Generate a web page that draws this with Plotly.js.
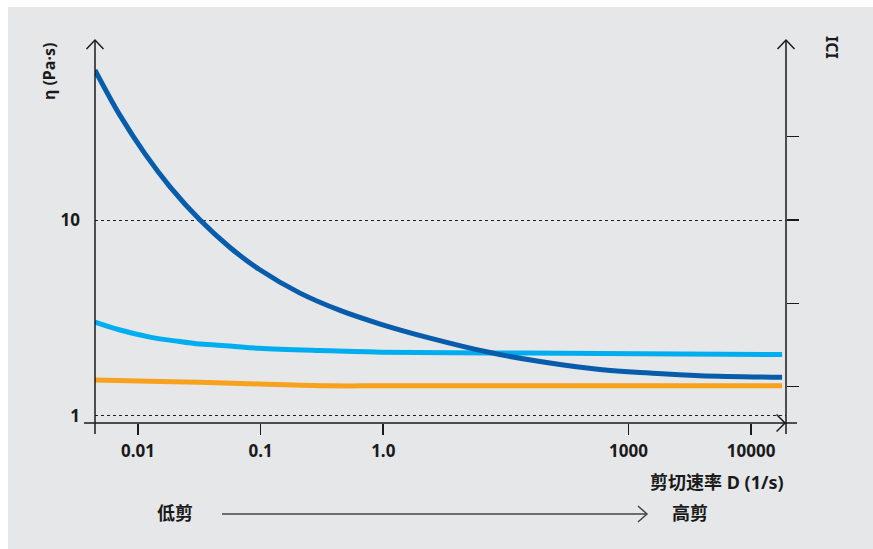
<!DOCTYPE html>
<html>
<head>
<meta charset="utf-8">
<script src="https://cdn.plot.ly/plotly-3.0.1.min.js"></script>
<style>
  html, body { margin: 0; padding: 0; background: #ffffff; }
  #chart { width: 873px; height: 549px; }
</style>
</head>
<body>
<div id="chart"></div>
<script>
// Shear-rate axis is schematic: one unit per labelled step
// (0.01, 0.1, 1.0, then 1000 two steps later, then 10000).
const tickPos = [0, 1, 2, 4, 5];
const tickLabels = ['0.01', '0.1', '1.0', '1000', '10000'];

// Viscosity curves, η in Pa·s, x in shear-axis units
const darkX = [-0.351, -0.147, 0.057, 0.261, 0.506, 0.750, 0.987, 1.321, 1.648, 1.982, 2.382, 2.871, 3.279, 3.768, 4.176, 4.584, 5.253];
const darkEta = [58.5, 34.3, 21.8, 14.8, 10.0, 7.24, 5.60, 4.23, 3.45, 2.93, 2.49, 2.10, 1.89, 1.72, 1.65, 1.60, 1.57];

const lightX = [-0.351, -0.147, 0.098, 0.302, 0.506, 0.750, 0.987, 1.485, 1.982, 2.871, 3.768, 5.253];
const lightEta = [3.01, 2.74, 2.52, 2.41, 2.32, 2.27, 2.21, 2.15, 2.11, 2.09, 2.08, 2.05];

const orangeX = [-0.351, 0.098, 0.506, 0.987, 1.566, 1.982, 3.0, 5.253];
const orangeEta = [1.52, 1.50, 1.48, 1.45, 1.42, 1.42, 1.42, 1.42];

// Right-hand |C| axis tick marks (unlabelled)
const rightTicks = [1, 2, 3, 4];

const FONT = 'Noto Sans, "Noto Sans CJK SC", sans-serif';
const INK = '#1a1a1a';
const BG = '#e6e7e9';

function curve(x, y, color) {
  return {
    type: 'scatter', mode: 'lines', x: x, y: y,
    line: { color: color, width: 5, shape: 'spline', smoothing: 1 },
    hoverinfo: 'skip', showlegend: false
  };
}

const data = [
  curve(lightX, lightEta, '#00aeef'),
  curve(orangeX, orangeEta, '#f8a11c'),
  curve(darkX, darkEta, '#075dab'),
  // carries the right-hand axis
  { type: 'scatter', mode: 'lines', x: [null], y: [null], yaxis: 'y2', hoverinfo: 'skip', showlegend: false }
];

// open chevron arrow heads, sized in pixels
function chevron(x, y, path, color) {
  return {
    type: 'path', xref: 'paper', yref: 'paper',
    xsizemode: 'pixel', ysizemode: 'pixel', xanchor: x, yanchor: y,
    path: path, line: { color: color || INK, width: 1.5 }
  };
}
function seg(x0, y0, x1, y1, color, w) {
  return { type: 'line', xref: 'paper', yref: 'paper', x0: x0, y0: y0, x1: x1, y1: y1,
           line: { color: color || INK, width: w || 1.5 } };
}

const shapes = [
  { type: 'rect', xref: 'paper', yref: 'paper', x0: -0.1375, x1: -0.1259, y0: -0.34, y1: 1.11,
    fillcolor: '#ffffff', line: { width: 0 }, layer: 'below' },
  { type: 'rect', xref: 'paper', yref: 'paper', x0: -0.14, x1: 1.14, y0: 1.0862, y1: 1.11,
    fillcolor: '#ffffff', line: { width: 0 }, layer: 'below' },
  seg(0, -0.0287, 0, 1),
  seg(1, -0.0287, 1, 1),
  seg(-0.0159, 0, 1.0159, 0),
  chevron(0, 1, 'M-8.5,-9 L0,0 L8.5,-9'),
  chevron(1, 1, 'M-8.5,-9 L0,0 L8.5,-9'),
  chevron(0.9986, 0, 'M-8.5,8.5 L0,0 L-8.5,-8.5'),
  seg(0.1838, -0.2376, 0.7988, -0.2376, '#444444', 1.5),
  chevron(0.7988, -0.2376, 'M-9,8 L0,0 L-9,-8', '#444444')
];

function label(text, x, y, size, opts) {
  return Object.assign({
    text: text, xref: 'paper', yref: 'paper', x: x, y: y,
    xanchor: 'center', yanchor: 'middle', showarrow: false,
    font: { family: FONT, size: size, color: INK, weight: 'bold' }
  }, opts || {});
}

const layout = {
  width: 873, height: 549,
  margin: { l: 95, r: 87, t: 40, b: 126 },
  paper_bgcolor: BG, plot_bgcolor: 'rgba(0,0,0,0)',
  hovermode: false,
  xaxis: {
    range: [-0.351, 5.285], tickvals: tickPos, ticktext: tickLabels,
    ticks: 'outside', ticklen: 11, tickwidth: 1.5, tickcolor: INK,
    showgrid: false, zeroline: false, showline: false, ticklabelstandoff: 2,
    tickfont: { family: FONT, size: 17, color: INK, weight: 'bold' }
  },
  yaxis: {
    type: 'log', range: [-0.038, 1.921], tickvals: [1, 10], ticktext: ['1', '10'],
    ticks: '', showgrid: true, gridcolor: '#222222', gridwidth: 1, griddash: 'dot',
    zeroline: false, showline: false, ticklabelstandoff: 14,
    tickfont: { family: FONT, size: 17, color: INK, weight: 'bold' }
  },
  yaxis2: {
    overlaying: 'y', side: 'right', range: [0.564, 5.16], tickvals: rightTicks,
    ticks: 'outside', ticklen: 12, tickwidth: 1.5, tickcolor: INK,
    showticklabels: false, showgrid: false, zeroline: false, showline: false
  },
  shapes: shapes,
  annotations: [
    label('η (Pa·s)', -0.0666, 0.919, 16, { textangle: -90 }),
    label('ICI', 1.0666, 0.9817, 16, { textangle: 90 }),
    label('剪切速率 D (1/s)', 1, -0.154, 18, { xanchor: 'right' }),
    label('低剪', 0.1158, -0.235, 18),
    label('高剪', 0.861, -0.235, 18)
  ]
};

Plotly.newPlot('chart', data, layout, { staticPlot: true, displayModeBar: false });
</script>
</body>
</html>
